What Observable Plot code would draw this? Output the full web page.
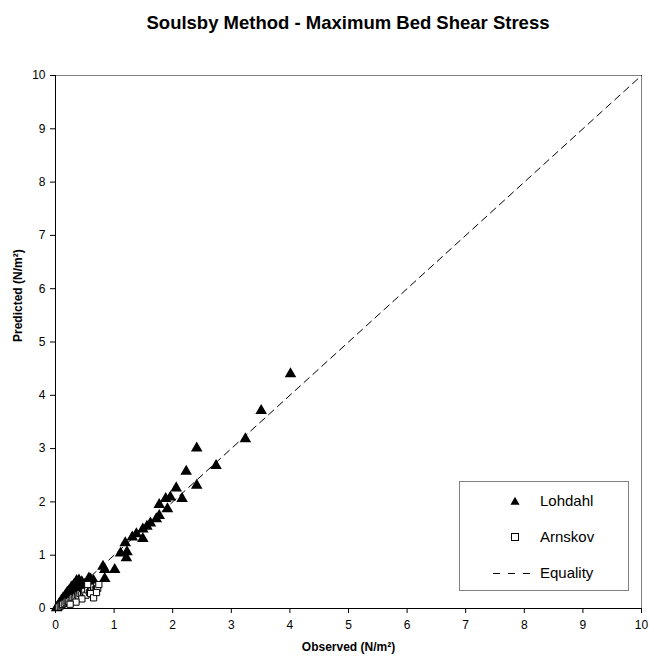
<!DOCTYPE html>
<html>
<head>
<meta charset="utf-8">
<script src="https://cdn.jsdelivr.net/npm/d3@7"></script>
<script src="https://cdn.jsdelivr.net/npm/@observablehq/plot@0.6"></script>
<style>
  html, body { margin: 0; padding: 0; background: white; }
  #wrap { position: relative; width: 649px; height: 657px; font-family: "Liberation Sans", Arial, sans-serif; }
  #title { position: absolute; left: 55px; width: 586px; top: 14px; text-align: center; font-weight: bold; font-size: 18.5px; line-height: 18.5px; color: black; }
  #chart { position: absolute; left: 0; top: 45px; }
  #legend { position: absolute; left: 459px; top: 481px; }
</style>
</head>
<body>
<div id="wrap">
  <div id="title"></div>
  <div id="chart"></div>
  <svg id="legend" width="171" height="111"></svg>
</div>
<script>
// ---- data ----
const titleText = "Soulsby Method - Maximum Bed Shear Stress";
const xLabel = "Observed (N/m²)";
const yLabel = "Predicted (N/m²)";
const axisTicks = [0, 1, 2, 3, 4, 5, 6, 7, 8, 9, 10];
const seriesNames = ["Lohdahl", "Arnskov", "Equality"];

const lohdahlObserved = [4.01, 3.51, 3.24, 2.41, 2.74, 2.23, 2.41, 2.06, 1.96, 1.88, 2.16, 1.77, 1.91, 1.77, 1.72, 1.62, 1.56, 1.49, 1.49, 1.38, 1.31, 1.19, 1.11, 1.22, 1.21, 1.01, 0.81, 0.84, 0.84, 0.57, 0.40, 0.45, 0.35, 0.30, 0.28, 0.33, 0.25, 0.22, 0.20, 0.18, 0.15, 0.12, 0.10, 0.08, 0.06, 0.05, 0.03, 0.02, 0.14, 0.18, 0.24, 0.38, 0.50, 0.55, 0.62, 0.65, 0.10, 0.13, 0.17, 0.20, 0.23, 0.27, 0.32, 0.36, 0.42, 0.48, 0.52, 0.58, 0.60, 0.30, 0.44];
const lohdahlPredicted = [4.40, 3.71, 3.18, 3.01, 2.68, 2.57, 2.31, 2.26, 2.09, 2.06, 2.06, 1.95, 1.87, 1.74, 1.68, 1.60, 1.54, 1.49, 1.31, 1.40, 1.34, 1.23, 1.04, 1.06, 0.95, 0.73, 0.79, 0.73, 0.56, 0.57, 0.53, 0.50, 0.48, 0.42, 0.36, 0.38, 0.30, 0.28, 0.25, 0.22, 0.18, 0.15, 0.12, 0.10, 0.08, 0.05, 0.03, 0.01, 0.12, 0.16, 0.20, 0.40, 0.45, 0.50, 0.48, 0.52, 0.15, 0.20, 0.25, 0.30, 0.33, 0.40, 0.45, 0.52, 0.48, 0.42, 0.38, 0.45, 0.55, 0.33, 0.36];

const arnskovObserved = [0.05, 0.08, 0.10, 0.12, 0.15, 0.18, 0.20, 0.22, 0.25, 0.28, 0.30, 0.33, 0.35, 0.38, 0.40, 0.42, 0.45, 0.48, 0.50, 0.52, 0.55, 0.58, 0.60, 0.62, 0.65, 0.68, 0.70, 0.72, 0.55, 0.60, 0.65, 0.45, 0.35, 0.25, 0.70, 0.74];
const arnskovPredicted = [0.03, 0.05, 0.07, 0.08, 0.10, 0.12, 0.14, 0.13, 0.15, 0.18, 0.20, 0.19, 0.22, 0.25, 0.23, 0.28, 0.26, 0.30, 0.32, 0.25, 0.35, 0.30, 0.38, 0.33, 0.40, 0.35, 0.42, 0.38, 0.45, 0.28, 0.20, 0.18, 0.12, 0.08, 0.30, 0.45];

const equalityValues = [0, 10];

// ---- tables ----
const lohdahl = lohdahlObserved.map((x, i) => ({x, y: lohdahlPredicted[i]}));
const arnskov = arnskovObserved.map((x, i) => ({x, y: arnskovPredicted[i]}));
const equality = equalityValues.map(v => ({x: v, y: v}));

document.getElementById("title").textContent = titleText;

const chart = Plot.plot({
  width: 649,
  height: 612,
  marginLeft: 55,
  marginRight: 8,
  marginTop: 30,
  marginBottom: 49,
  style: {fontFamily: "'Liberation Sans', Arial, sans-serif", fontSize: "12px", color: "black", background: "white", overflow: "visible"},
  x: {domain: [0, 10]},
  y: {domain: [0, 10]},
  marks: [
    Plot.frame({stroke: "#808080"}),
    Plot.axisX({ticks: axisTicks, tickSize: 5, tickPadding: 7, label: null, tickFormat: d => String(d)}),
    Plot.axisY({ticks: axisTicks, tickSize: 5, tickPadding: 5, label: null, tickFormat: d => String(d)}),
    Plot.ruleX([0], {stroke: "black"}),
    Plot.ruleY([0], {stroke: "black"}),
    Plot.line(equality, {x: "x", y: "y", stroke: "black", strokeWidth: 1, strokeDasharray: "7,5"}),
    Plot.dot(lohdahl, {x: "x", y: "y", symbol: "triangle", fill: "black", r: 4.3}),
    Plot.dot(arnskov, {x: "x", y: "y", symbol: "square", fill: "white", stroke: "black", strokeWidth: 1, r: 3.5}),
    Plot.text([xLabel], {text: d => d, frameAnchor: "bottom", dy: 42, fontWeight: "bold", fontSize: 12}),
    Plot.text([yLabel], {text: d => d, frameAnchor: "left", dx: -37, rotate: -90, fontWeight: "bold", fontSize: 12})
  ]
});
document.getElementById("chart").appendChild(chart);

// ---- legend ----
const leg = d3.select("#legend");
leg.append("rect").attr("x", 0.5).attr("y", 0.5).attr("width", 169).attr("height", 109)
  .attr("fill", "white").attr("stroke", "#808080");
const rowsY = [20, 56, 92];
const sx = 56;
leg.append("path").attr("transform", `translate(${sx},${rowsY[0] + 1})`)
  .attr("d", d3.symbol(d3.symbolTriangle, 36)()).attr("fill", "black");
leg.append("rect").attr("x", sx - 3.5).attr("y", rowsY[1] - 3.5).attr("width", 7).attr("height", 7)
  .attr("fill", "white").attr("stroke", "black");
leg.append("line").attr("x1", 34).attr("x2", 73).attr("y1", rowsY[2] + 0.5).attr("y2", rowsY[2] + 0.5)
  .attr("stroke", "black").attr("stroke-dasharray", "7,8");
seriesNames.forEach((name, i) => {
  leg.append("text").attr("x", 81).attr("y", rowsY[i]).attr("dy", "0.35em")
    .attr("font-size", 15).attr("font-family", "'Liberation Sans', Arial, sans-serif")
    .attr("fill", "black").text(name);
});
</script>
</body>
</html>
